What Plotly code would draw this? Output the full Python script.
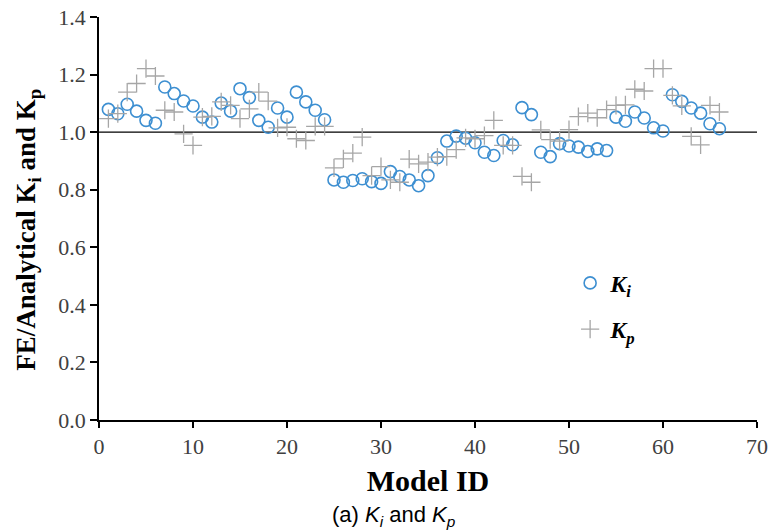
import plotly.graph_objects as go

model_id = list(range(1, 67))

# FE / analytical ratio for K_i
ki = [1.079, 1.064, 1.097, 1.073, 1.041, 1.031, 1.157, 1.134, 1.108, 1.091,
      1.052, 1.035, 1.101, 1.073, 1.151, 1.120, 1.041, 1.017, 1.084, 1.052,
      1.139, 1.105, 1.076, 1.043, 0.834, 0.826, 0.832, 0.838, 0.828, 0.822,
      0.863, 0.846, 0.834, 0.814, 0.849, 0.911, 0.969, 0.986, 0.979, 0.963,
      0.930, 0.919, 0.971, 0.956, 1.085, 1.061, 0.930, 0.915, 0.960, 0.952,
      0.948, 0.933, 0.942, 0.936, 1.052, 1.038, 1.070, 1.049, 1.015, 1.004,
      1.130, 1.107, 1.084, 1.066, 1.029, 1.012]

# FE / analytical ratio for K_p
kp = [1.047, 1.064, 1.139, 1.169, 1.221, 1.195, 1.076, 1.070, 0.994, 0.954,
      1.052, 1.055, 1.105, 1.093, 1.047, 1.081, 1.139, 1.108, 1.015, 1.017,
      0.977, 0.971, 1.020, 1.020, 0.876, 0.907, 0.927, 0.983, 0.849, 0.880,
      0.834, 0.826, 0.906, 0.890, 0.896, 0.913, 0.915, 0.939, 0.980, 0.977,
      0.988, 1.041, 0.954, 0.954, 0.846, 0.826, 1.008, 0.974, 0.969, 1.009,
      1.054, 1.066, 1.050, 1.078, 1.093, 1.095, 1.149, 1.143, 1.221, 1.221,
      1.128, 1.091, 0.985, 0.956, 1.093, 1.070]

x_ticks = [0, 10, 20, 30, 40, 50, 60, 70]
y_ticks = [0.0, 0.2, 0.4, 0.6, 0.8, 1.0, 1.2, 1.4]
ref_x = [0, 70]
ref_y = [1.0, 1.0]

serif = "Liberation Serif, Times New Roman, serif"

fig = go.Figure()

fig.add_trace(go.Scatter(
    x=ref_x, y=ref_y, mode="lines",
    line=dict(color="black", width=1.2),
    showlegend=False, hoverinfo="skip"))

fig.add_trace(go.Scatter(
    x=model_id, y=ki, mode="markers",
    name="<b><i>K<sub>i</sub></i></b>", legendgroup="ki",
    marker=dict(symbol="circle-open", size=12,
                color="#3d8fd1", line=dict(width=1.6, color="#3d8fd1"))))

fig.add_trace(go.Scatter(
    x=model_id, y=kp, mode="markers",
    name="<b><i>K<sub>p</sub></i></b>", legendgroup="kp",
    marker=dict(symbol="cross-thin-open", size=13,
                color="#a6a6a6", line=dict(width=1.3, color="#a6a6a6"))))

fig.update_layout(
    width=769, height=531,
    margin=dict(l=99, r=12, t=17, b=111, autoexpand=False),
    paper_bgcolor="white", plot_bgcolor="white",
    font=dict(family=serif, color="#404040"),
    legend=dict(
        x=0.716, y=0.395, xanchor="left", yanchor="top",
        font=dict(family=serif, size=24, color="black"),
        tracegroupgap=12, bgcolor="rgba(0,0,0,0)",
        itemwidth=30),
    xaxis=dict(
        range=[0, 70], tickvals=x_ticks, showgrid=False, zeroline=False,
        automargin=False,
        showline=True, linecolor="black", linewidth=1.5,
        ticks="outside", ticklen=6, tickwidth=1.5, tickcolor="black",
        tickfont=dict(family=serif, size=22, color="#404040"),
        title=dict(text="<b>Model ID</b>",
                   font=dict(family=serif, size=30, color="black"),
                   standoff=12)),
    yaxis=dict(
        range=[0, 1.4], tickvals=y_ticks, tickformat=".1f",
        showgrid=False, zeroline=False, automargin=False,
        showline=True, linecolor="black", linewidth=1.5,
        ticks="outside", ticklen=7, tickwidth=1.5, tickcolor="black",
        tickfont=dict(family=serif, size=22, color="#404040")),
    annotations=[
        dict(text="<b>FE/Analytical K<sub>i</sub> and K<sub>p</sub></b>",
             xref="paper", yref="paper", x=-0.108, y=0.472,
             xanchor="center", yanchor="middle", textangle=-90,
             showarrow=False,
             font=dict(family=serif, size=27, color="black")),
        dict(text="(a) <i>K<sub>i</sub></i> and <i>K<sub>p</sub></i>",
             xref="paper", yref="paper", x=0.448, y=-0.238,
             xanchor="center", yanchor="middle", showarrow=False,
             font=dict(family="Liberation Sans, Arial, sans-serif", size=22,
                       color="black"))],
)

fig.write_html("out.html")
